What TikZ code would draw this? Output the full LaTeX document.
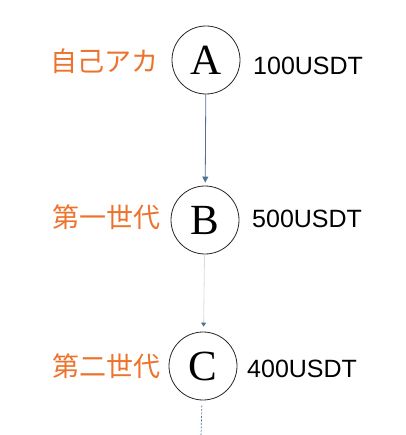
\documentclass[tikz,border=0pt]{standalone}
\usepackage{fontspec}
\setmainfont{Liberation Serif}
\setsansfont{Liberation Sans}
\newfontfamily\cjk{Noto Sans CJK JP}
\usetikzlibrary{arrows.meta}
\definecolor{orng}{RGB}{237,115,45}
\definecolor{arr}{RGB}{84,110,150}
\definecolor{faint}{RGB}{215,220,228}
\begin{document}
\begin{tikzpicture}[x=1pt,y=-1pt,
  circ/.style={draw=black!85,line width=0.8pt,circle,minimum size=68pt,inner sep=0pt,font=\fontsize{43}{43}\selectfont},
  jp/.style={anchor=east,text=orng,font=\cjk\fontsize{27}{27}\selectfont,inner sep=0pt},
  usd/.style={anchor=base west,font=\sffamily\fontsize{25}{25}\selectfont,inner sep=0pt},
  conn/.style={draw=arr,line width=0.8pt}]
\useasboundingbox (0,0) rectangle (405,435);
\node[circ] (A) at (206,60) {A};
\node[circ] (B) at (205,220) {B};
\node[circ] (C) at (203,366) {C};
\node[jp] (la) at (159,61) {自己アカ};
\node[jp] (lb) at (161,217) {第一世代};
\node[jp] (lc) at (161,366) {第二世代};
\node[usd] (ra) at (253,75) {100USDT};
\node[usd] (rb) at (252,227) {500USDT};
\node[usd] (rc) at (247,377) {400USDT};
\coordinate (cend) at (201,435);
\draw[conn,-{Triangle[length=6pt,width=6pt]},shorten >=3pt] (A) -- (B);
\draw[draw=faint,line width=0.8pt,-{Triangle[length=4pt,width=5pt,color=arr]},shorten >=5pt] (B) -- (C);
\draw[draw=arr,line width=0.7pt,dash pattern=on 2pt off 1.5pt,shorten <=5pt] (C) -- (cend);
\end{tikzpicture}
\end{document}
